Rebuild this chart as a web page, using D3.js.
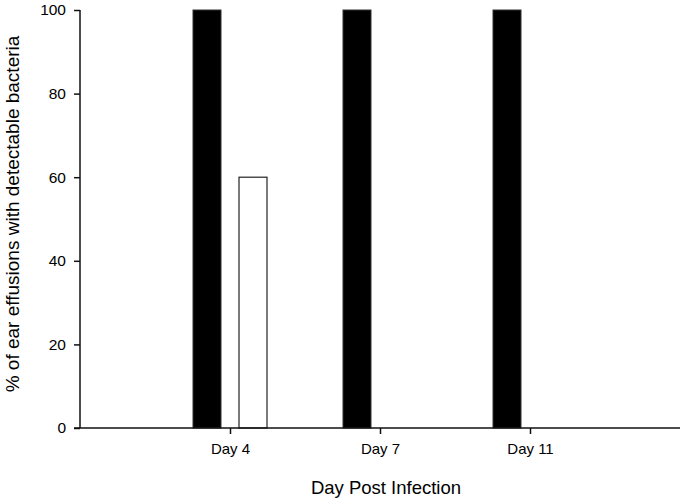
<!DOCTYPE html>
<html>
<head>
<meta charset="utf-8">
<script src="https://cdn.jsdelivr.net/npm/d3@7"></script>
<style>
  body { margin: 0; background: #fff; }
  text { font-family: "Liberation Sans", Arial, sans-serif; fill: #000; }
</style>
</head>
<body>
<svg id="chart" width="684" height="501"></svg>
<script>
var days = ["Day 4", "Day 7", "Day 11"];
var blackValues = [100, 100, 100];
var whiteValues = [60, 0, 0];
var yTicks = [0, 20, 40, 60, 80, 100];

var svg = d3.select("#chart"),
    plotLeft = 80,
    plotRight = 680,
    plotTop = 10,
    plotBottom = 428,
    barWidth = 28,
    barOffset = 23;

var x = d3.scalePoint()
    .domain(days)
    .range([plotLeft, plotRight])
    .padding(1);

var y = d3.scaleLinear()
    .domain([0, 100])
    .range([plotBottom, plotTop]);

// bars
var g = svg.append("g");

g.selectAll(".bar-black")
    .data(days)
    .enter().append("rect")
    .attr("class", "bar-black")
    .attr("x", function(d) { return x(d) - barOffset - barWidth / 2; })
    .attr("y", function(d, i) { return y(blackValues[i]); })
    .attr("width", barWidth)
    .attr("height", function(d, i) { return y(0) - y(blackValues[i]); })
    .attr("fill", "#000")
    .attr("stroke", "#333")
    .attr("stroke-width", 1);

g.selectAll(".bar-white")
    .data(days.filter(function(d, i) { return whiteValues[i] > 0; }))
    .enter().append("rect")
    .attr("class", "bar-white")
    .attr("x", function(d) { return x(d) + barOffset - barWidth / 2; })
    .attr("y", function(d) { return y(whiteValues[days.indexOf(d)]); })
    .attr("width", barWidth)
    .attr("height", function(d) { return y(0) - y(whiteValues[days.indexOf(d)]); })
    .attr("fill", "#fff")
    .attr("stroke", "#222")
    .attr("stroke-width", 1.2);

// y axis
var yAxis = svg.append("g")
    .attr("transform", "translate(" + plotLeft + ",0)")
    .call(d3.axisLeft(y).tickValues(yTicks).tickSize(6).tickPadding(8));
yAxis.select(".domain").attr("d", "M0," + plotTop + "V" + plotBottom).attr("stroke", "#111").attr("stroke-width", 1.5);
yAxis.selectAll(".tick line").attr("stroke", "#111").attr("stroke-width", 1.5);
yAxis.selectAll(".tick text").attr("font-size", 15.5).attr("font-family", "Liberation Sans, Arial, sans-serif");

// x axis
var xAxis = svg.append("g")
    .attr("transform", "translate(0," + plotBottom + ")")
    .call(d3.axisBottom(x).tickSize(6).tickPadding(9));
xAxis.select(".domain").attr("d", "M" + (plotLeft - 6) + ",0H" + plotRight).attr("stroke", "#111").attr("stroke-width", 1.5);
xAxis.selectAll(".tick line").attr("stroke", "#111").attr("stroke-width", 1.5);
xAxis.selectAll(".tick text").attr("font-size", 15).attr("font-family", "Liberation Sans, Arial, sans-serif");

// titles
svg.append("text")
    .attr("x", 386)
    .attr("y", 494)
    .attr("text-anchor", "middle")
    .attr("font-size", 18.5)
    .text("Day Post Infection");

svg.append("text")
    .attr("transform", "translate(19,214) rotate(-90)")
    .attr("text-anchor", "middle")
    .attr("font-size", 19)
    .text("% of ear effusions with detectable bacteria");
</script>
</body>
</html>
